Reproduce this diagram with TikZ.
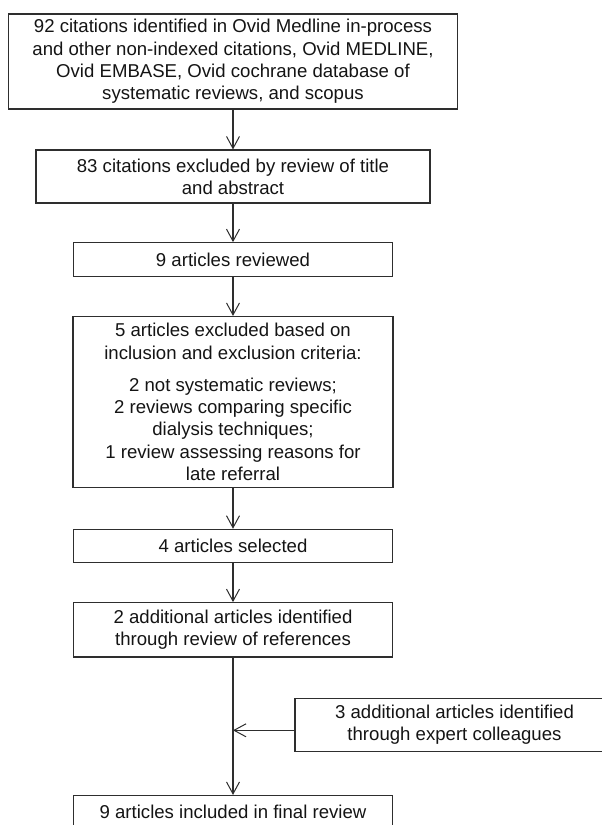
\documentclass[tikz,border=0pt]{standalone}
\usepackage{fontspec}
\setmainfont{Liberation Sans}
\usetikzlibrary{arrows.meta}
\begin{document}
\begin{tikzpicture}[x=1pt,y=-1pt,
  box/.style={draw=black!82,line width=1.1pt,inner sep=0pt,align=center,
    text=black!92,font=\fontsize{18.6}{22.3}\selectfont},
  arr/.style={draw=black!82,line width=1.1pt,-{Straight Barb[length=12pt,width=13pt,line width=1pt]}},
  ln/.style={draw=black!82,line width=1.1pt}]
\useasboundingbox (0,0) rectangle (602,825);
\clip (0,0) rectangle (602,825);
\node[box,minimum width=448.5pt,minimum height=95pt] (b1) at (233,61.5)
  {92 citations identified in Ovid Medline in-process\\and other non-indexed citations, Ovid MEDLINE,\\Ovid EMBASE, Ovid cochrane database of\\systematic reviews, and scopus};
\node[box,minimum width=394pt,minimum height=53pt] (b2) at (233,176.5)
  {83 citations excluded by review of title\\and abstract};
\node[box,minimum width=318.5pt,minimum height=34pt] (b3) at (233,259.7)
  {9 articles reviewed};
\node[box,minimum width=320pt,minimum height=171pt] (b4) at (233,402)
  {5 articles excluded based on\\inclusion and exclusion criteria:\\[10pt]2 not systematic reviews;\\2 reviews comparing specific\\dialysis techniques;\\1 review assessing reasons for\\late referral};
\node[box,minimum width=319pt,minimum height=33pt] (b5) at (233,545.8)
  {4 articles selected};
\node[box,minimum width=319pt,minimum height=54.3pt] (b6) at (233,629.8)
  {2 additional articles identified\\through review of references};
\node[box,minimum width=319pt,minimum height=53pt] (b7) at (454.5,725)
  {3 additional articles identified\\through expert colleagues};
\node[box,minimum width=319pt,minimum height=33pt] (b8) at (233,812)
  {9 articles included in final review};
\coordinate (m) at (233,730.3);
\draw[arr] (b1.south) -- (b2.north);
\draw[arr] (b2.south) -- (b3.north);
\draw[arr] (b3.south) -- (b4.north);
\draw[arr] (b4.south) -- (b5.north);
\draw[arr] (b5.south) -- (b6.north);
\draw[arr] (b6.south) -- (b8.north);
\draw[arr] (b7.west |- m) -- (m);
\end{tikzpicture}
\end{document}
